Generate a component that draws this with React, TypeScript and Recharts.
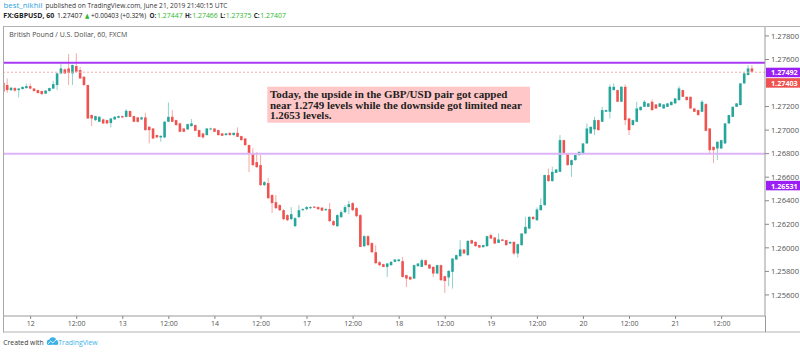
import React from 'react';
import { ComposedChart, Bar, XAxis, YAxis, ReferenceLine } from 'recharts';

const opens = [
  1.27402,1.27383,1.27340,1.27357,1.27340,1.27349,1.27357,1.27374,1.27353,1.27340,
  1.27332,1.27310,1.27332,1.27353,1.27383,1.27482,1.27516,1.27524,1.27482,1.27544,
  1.27510,1.27453,1.27383,1.27128,1.27085,1.27071,1.27091,1.27085,1.27060,1.27091,
  1.27105,1.27119,1.27113,1.27162,1.27119,1.27108,1.27091,1.27108,1.27028,1.27014,
  1.26958,1.26938,1.26938,1.27071,1.27113,1.27085,1.27057,1.27014,1.27006,1.27034,
  1.27043,1.27000,1.26972,1.26958,1.27006,1.27014,1.27000,1.26972,1.26958,1.26977,
  1.26958,1.26977,1.26949,1.26929,1.26873,1.26796,1.26728,1.26703,1.26533,1.26550,
  1.26448,1.26388,1.26363,1.26320,1.26278,1.26244,1.26184,1.26261,1.26320,1.26329,
  1.26337,1.26350,1.26346,1.26341,1.26320,1.26329,1.26227,1.26184,1.26261,1.26303,
  1.26346,1.26380,1.26337,1.26278,1.26014,1.26099,1.26040,1.25963,1.25878,1.25861,
  1.25838,1.25853,1.25881,1.25887,1.25887,1.25768,1.25753,1.25739,1.25844,1.25838,
  1.25895,1.25858,1.25838,1.25782,1.25853,1.25759,1.25748,1.25796,1.25901,1.25929,
  1.25986,1.25938,1.26065,1.26051,1.26023,1.26006,1.26014,1.26108,1.26088,1.26042,
  1.26071,1.26065,1.26037,1.26051,1.25952,1.26023,1.26122,1.26164,1.26263,1.26235,
  1.26320,1.26363,1.26618,1.26567,1.26637,1.26646,1.26915,1.26802,1.26703,1.26745,
  1.26788,1.26802,1.26887,1.26972,1.27006,1.27085,1.27071,1.27156,1.27156,1.27340,
  1.27340,1.27241,1.27368,1.27099,1.27043,1.27071,1.27170,1.27198,1.27198,1.27241,
  1.27218,1.27198,1.27184,1.27198,1.27213,1.27227,1.27255,1.27340,1.27283,1.27283,
  1.27184,1.27170,1.27156,1.27221,1.27014,1.26858,1.26844,1.26844,1.26887,1.27057,
  1.27113,1.27198,1.27213,1.27397,1.27468,1.27524,
];

const highs = [
  1.27425,1.27439,1.27368,1.27366,1.27357,1.27374,1.27395,1.27397,1.27357,1.27344,
  1.27336,1.27340,1.27361,1.27419,1.27489,1.27567,1.27523,1.27646,1.27557,1.27652,
  1.27538,1.27459,1.27387,1.27132,1.27123,1.27119,1.27098,1.27089,1.27102,1.27119,
  1.27123,1.27123,1.27179,1.27166,1.27123,1.27111,1.27113,1.27147,1.27034,1.27017,
  1.26962,1.26953,1.27077,1.27235,1.27170,1.27089,1.27064,1.27017,1.27055,1.27094,
  1.27047,1.27004,1.26975,1.27017,1.27021,1.27017,1.27004,1.26975,1.26975,1.26979,
  1.26979,1.27023,1.26953,1.26932,1.26877,1.26847,1.26813,1.26788,1.26567,1.26592,
  1.26456,1.26448,1.26371,1.26329,1.26286,1.26346,1.26261,1.26363,1.26337,1.26354,
  1.26354,1.26354,1.26354,1.26346,1.26337,1.26380,1.26235,1.26286,1.26320,1.26363,
  1.26399,1.26388,1.26346,1.26286,1.26108,1.26108,1.26048,1.26023,1.25887,1.25865,
  1.25870,1.25887,1.25904,1.25908,1.25923,1.25772,1.25759,1.25857,1.25870,1.25909,
  1.25899,1.25861,1.25844,1.25857,1.25857,1.25763,1.25810,1.25912,1.25942,1.26065,
  1.25989,1.26065,1.26069,1.26052,1.26023,1.26027,1.26103,1.26122,1.26091,1.26122,
  1.26074,1.26069,1.26052,1.26052,1.26035,1.26125,1.26263,1.26269,1.26269,1.26343,
  1.26419,1.26622,1.26674,1.26688,1.26669,1.26958,1.26919,1.26805,1.26749,1.26792,
  1.26817,1.26890,1.27057,1.27030,1.27113,1.27089,1.27198,1.27174,1.27388,1.27397,
  1.27344,1.27374,1.27388,1.27102,1.27089,1.27241,1.27200,1.27255,1.27230,1.27261,
  1.27221,1.27230,1.27221,1.27230,1.27242,1.27272,1.27374,1.27344,1.27285,1.27285,
  1.27187,1.27174,1.27255,1.27230,1.27017,1.26860,1.26902,1.26919,1.27060,1.27130,
  1.27200,1.27230,1.27400,1.27496,1.27553,1.27553,
];

const lows = [
  1.27319,1.27317,1.27332,1.27327,1.27278,1.27344,1.27353,1.27349,1.27327,1.27310,
  1.27302,1.27306,1.27327,1.27349,1.27340,1.27476,1.27476,1.27383,1.27383,1.27493,
  1.27434,1.27374,1.27094,1.27034,1.27077,1.27068,1.27051,1.27051,1.27023,1.27085,
  1.27102,1.27102,1.27108,1.27111,1.27068,1.27064,1.27085,1.26996,1.26887,1.26924,
  1.26932,1.26901,1.26932,1.27068,1.27068,1.27038,1.26983,1.26983,1.27000,1.27030,
  1.26992,1.26941,1.26932,1.26953,1.27000,1.26983,1.26953,1.26949,1.26953,1.26953,
  1.26953,1.26941,1.26911,1.26864,1.26643,1.26694,1.26677,1.26524,1.26524,1.26414,
  1.26295,1.26329,1.26312,1.26235,1.26227,1.26235,1.26176,1.26252,1.26312,1.26320,
  1.26329,1.26337,1.26320,1.26312,1.26312,1.26218,1.26184,1.26176,1.26252,1.26295,
  1.26286,1.26312,1.26261,1.26006,1.26006,1.26014,1.25955,1.25861,1.25844,1.25836,
  1.25753,1.25848,1.25878,1.25882,1.25746,1.25668,1.25725,1.25734,1.25840,1.25836,
  1.25848,1.25821,1.25753,1.25776,1.25721,1.25617,1.25674,1.25654,1.25895,1.25925,
  1.25946,1.25933,1.26031,1.26010,1.25997,1.26001,1.26010,1.26074,1.26031,1.26040,
  1.26057,1.26018,1.26031,1.25938,1.25918,1.26018,1.26116,1.26159,1.26239,1.26227,
  1.26316,1.26358,1.26562,1.26562,1.26635,1.26643,1.26796,1.26698,1.26603,1.26741,
  1.26783,1.26796,1.26881,1.26966,1.26958,1.26996,1.27068,1.27153,1.27099,1.27336,
  1.27238,1.27238,1.27043,1.26958,1.27038,1.27068,1.27166,1.27196,1.27196,1.27166,
  1.27181,1.27196,1.27181,1.27196,1.27208,1.27224,1.27251,1.27281,1.27251,1.27181,
  1.27153,1.27123,1.27153,1.26992,1.26802,1.26720,1.26745,1.26841,1.26884,1.27054,
  1.27111,1.27196,1.27210,1.27394,1.27465,1.27493,
];

const closes = [
  1.27326,1.27340,1.27360,1.27336,1.27353,1.27366,1.27374,1.27353,1.27332,1.27315,
  1.27306,1.27336,1.27357,1.27391,1.27482,1.27524,1.27482,1.27487,1.27553,1.27496,
  1.27439,1.27383,1.27099,1.27099,1.27119,1.27113,1.27057,1.27057,1.27099,1.27113,
  1.27119,1.27108,1.27164,1.27113,1.27071,1.27071,1.27108,1.27000,1.27000,1.26929,
  1.26938,1.26952,1.27071,1.27113,1.27071,1.27043,1.26986,1.26986,1.27051,1.27057,
  1.26994,1.26943,1.26938,1.27014,1.27014,1.26986,1.26958,1.26952,1.26972,1.26958,
  1.26977,1.26943,1.26915,1.26873,1.26805,1.26703,1.26686,1.26533,1.26558,1.26422,
  1.26380,1.26337,1.26320,1.26244,1.26235,1.26286,1.26252,1.26320,1.26329,1.26346,
  1.26346,1.26341,1.26329,1.26316,1.26329,1.26227,1.26193,1.26278,1.26303,1.26346,
  1.26371,1.26320,1.26269,1.26008,1.26099,1.26023,1.25963,1.25870,1.25853,1.25838,
  1.25867,1.25881,1.25901,1.25901,1.25753,1.25739,1.25731,1.25853,1.25867,1.25895,
  1.25853,1.25824,1.25782,1.25853,1.25725,1.25719,1.25804,1.25909,1.25938,1.25986,
  1.25952,1.26059,1.26037,1.26014,1.26003,1.26023,1.26099,1.26079,1.26037,1.26071,
  1.26059,1.26023,1.26051,1.25952,1.26031,1.26122,1.26178,1.26263,1.26244,1.26326,
  1.26363,1.26618,1.26567,1.26646,1.26666,1.26915,1.26802,1.26703,1.26745,1.26788,
  1.26816,1.26887,1.27014,1.27028,1.27085,1.27000,1.27170,1.27170,1.27368,1.27368,
  1.27241,1.27368,1.27085,1.27000,1.27085,1.27184,1.27198,1.27241,1.27227,1.27170,
  1.27184,1.27227,1.27218,1.27227,1.27241,1.27269,1.27354,1.27283,1.27255,1.27184,
  1.27156,1.27128,1.27241,1.26994,1.26830,1.26830,1.26901,1.26915,1.27057,1.27128,
  1.27198,1.27227,1.27397,1.27482,1.27524,1.27496,
];

const tickIndex = [7, 19, 31, 43, 55, 67, 79, 91, 103, 115, 127, 139, 151, 163, 175, 187];
const tickLabels = ['12', '12:00', '13', '12:00', '14', '12:00', '17', '12:00', '18', '12:00', '19', '12:00', '20', '12:00', '21', '12:00'];
const priceTicks = [1.256, 1.258, 1.26, 1.262, 1.264, 1.266, 1.268, 1.27, 1.272, 1.276, 1.278];

const resistanceLevel = 1.27572;
const cappedLevel = 1.27492;
const supportLevel = 1.268;
const lastPrice = 1.27403;
const limitedLevel = 1.26531;

const data = opens.map((o, i) => ({ i, open: o, high: highs[i], low: lows[i], close: closes[i] }));

const GREEN = '#26a69a';
const RED = '#ef5350';
const QUOTE_GREEN = '#2eb82e';
const SANS = "'Open Sans', 'Noto Sans', 'DejaVu Sans', sans-serif";

const Candle = (props: any) => {
  const { x, y, width, height, payload } = props;
  if (!payload || x == null || y == null) return null;
  const { open, close, high, low } = payload;
  const cx = x + width / 2;
  const range = high - low;
  const k = range > 0 ? height / range : 0;
  const yO = y + (high - open) * k;
  const yC = y + (high - close) * k;
  const up = close >= open;
  const color = up ? GREEN : RED;
  const top = Math.min(yO, yC);
  const h = Math.max(Math.abs(yO - yC), 1);
  return (
    <g>
      <line x1={cx} x2={cx} y1={y} y2={y + height} stroke={color} strokeOpacity={0.5} strokeWidth={1} />
      <rect x={cx - 1.3} y={top} width={2.6} height={h} fill={color} />
    </g>
  );
};

const PriceTag = (color: string, text: string) => (props: any) => {
  const vb = props.viewBox || {};
  const x0 = (vb.x || 0) + (vb.width || 0);
  const yc = vb.y || 0;
  return (
    <g>
      <rect x={x0 + 1} y={yc - 4.5} width={40} height={9.5} fill={color} />
      <text x={x0 + 6} y={yc + 3.2} fontSize={7.2} fontWeight={700} fill="#fff" fontFamily={SANS}>{text}</text>
    </g>
  );
};

const headerSegments: { text: string; x: number; w: number; fill: string; bold?: boolean }[] = [
  { text: 'FX:GBPUSD, 60', x: 3.3, w: 51.0, fill: '#222', bold: true },
  { text: '1.27407', x: 56.9, w: 25.6, fill: '#222' },
  { text: '▲', x: 85.0, w: 4.3, fill: QUOTE_GREEN },
  { text: '+0.00403 (+0.32%)', x: 91.1, w: 55.0, fill: '#222' },
  { text: 'O:', x: 149.6, w: 6.8, fill: '#222', bold: true },
  { text: '1.27447', x: 157.0, w: 25.6, fill: QUOTE_GREEN },
  { text: 'H:', x: 185.0, w: 6.6, fill: '#222', bold: true },
  { text: '1.27466', x: 192.2, w: 25.6, fill: QUOTE_GREEN },
  { text: 'L:', x: 220.2, w: 5.0, fill: '#222', bold: true },
  { text: '1.27375', x: 225.8, w: 25.6, fill: QUOTE_GREEN },
  { text: 'C:', x: 253.8, w: 5.8, fill: '#222', bold: true },
  { text: '1.27407', x: 260.3, w: 25.6, fill: QUOTE_GREEN },
];

export default function App() {
  return (
    <div style={{ position: 'absolute', left: 0, top: 0, width: 800, height: 352, background: '#fff', overflow: 'hidden' }}>
      <ComposedChart
        width={800}
        height={352}
        data={data}
        margin={{ top: 27, right: 0, bottom: 0, left: 3 }}
      >
        <XAxis
          dataKey="i"
          type="number"
          domain={[-0.2, 198.3]}
          allowDataOverflow
          ticks={tickIndex}
          interval={0}
          tickFormatter={(v: number) => tickLabels[tickIndex.indexOf(v)] ?? ''}
          height={36}
          tickSize={3}
          tickMargin={2}
          tick={{ fontSize: 7, fill: '#555', fontFamily: SANS }}
          axisLine={{ stroke: '#9a9a9a' }}
          tickLine={{ stroke: '#888' }}
        />
        <YAxis
          orientation="right"
          type="number"
          domain={[1.25421, 1.27876]}
          allowDataOverflow
          ticks={priceTicks}
          interval={0}
          tickFormatter={(v: number) => v.toFixed(5)}
          width={35}
          tickSize={4}
          tickMargin={2}
          tick={{ fontSize: 7.6, fill: '#555', fontFamily: SANS }}
          axisLine={{ stroke: '#9a9a9a' }}
          tickLine={{ stroke: '#888' }}
        />
        <Bar
          dataKey={(d: any) => [d.low, d.high]}
          barSize={3}
          isAnimationActive={false}
          shape={(p: any) => <Candle {...p} />}
        />
        <ReferenceLine y={supportLevel} stroke="#dcb5f7" strokeWidth={2} />
        <ReferenceLine y={resistanceLevel} stroke="#a83af5" strokeWidth={2} />
        <ReferenceLine y={cappedLevel} stroke="#f5a9a9" strokeWidth={1} strokeDasharray="2 2" label={PriceTag('#9b1ff5', cappedLevel.toFixed(5))} />
        <ReferenceLine y={lastPrice} stroke="none" strokeWidth={0} label={PriceTag(RED, lastPrice.toFixed(5))} />
        <ReferenceLine y={limitedLevel} stroke="none" strokeWidth={0} label={PriceTag('#9b1ff5', limitedLevel.toFixed(5))} />
      </ComposedChart>

      <svg width={800} height={352} style={{ position: 'absolute', left: 0, top: 0, pointerEvents: 'none' }}>
        {/* header */}
        <text x={3.5} y={8.3} fontSize={7.6} fontFamily={SANS} fill="#2a9fe0" textLength={39} lengthAdjust="spacingAndGlyphs">best_nikhil</text>
        <text x={45.5} y={8.3} fontSize={7.6} fontFamily={SANS} fill="#333" textLength={182} lengthAdjust="spacingAndGlyphs">published on TradingView.com, June 21, 2019 21:40:15 UTC</text>
        {headerSegments.map((s, k) => (
          <text key={k} x={s.x} y={18.3} fontSize={7} fontFamily={SANS} fontWeight={s.bold ? 700 : 400} fill={s.fill} textLength={s.w} lengthAdjust="spacingAndGlyphs">{s.text}</text>
        ))}

        {/* chart frame */}
        <line x1={3} x2={800} y1={26.5} y2={26.5} stroke="#b4b4b4" />
        <line x1={3.5} x2={3.5} y1={26.5} y2={332.5} stroke="#a8a8a8" />
        <line x1={3} x2={800} y1={332} y2={332} stroke="#b4b4b4" />
        <line x1={765.5} x2={765.5} y1={316} y2={332} stroke="#9a9a9a" />

        <text x={9.3} y={36.5} fontSize={7.8} fontFamily={SANS} fill="#4a4a4a" textLength={118} lengthAdjust="spacingAndGlyphs">British Pound / U.S. Dollar, 60, FXCM</text>

        {/* annotation */}
        <rect x={267.3} y={86.7} width={262.7} height={36} fill="#ffc7c7" />
        <text fontFamily="'Liberation Serif', 'Times New Roman', serif" fontWeight={700} fontSize={11} fill="#222">
          <tspan x={270} y={97.7}>Today, the upside in the GBP/USD pair got capped</tspan>
          <tspan x={270} y={108.5}>near 1.2749 levels while the downside got limited near</tspan>
          <tspan x={270} y={119.3}>1.2653 levels.</tspan>
        </text>

        {/* footer */}
        <text x={3.3} y={345.3} fontSize={8} fontFamily={SANS} fill="#333" textLength={40.4} lengthAdjust="spacingAndGlyphs">Created with</text>
        <g transform="translate(45.5,337)">
          <circle cx={4} cy={5.2} r={2.6} fill="#3bb2e6" />
          <circle cx={7.3} cy={3.6} r={3.3} fill="#3bb2e6" />
          <circle cx={10.3} cy={5.4} r={2.4} fill="#3bb2e6" />
          <rect x={1.4} y={5} width={11.3} height={2.8} rx={1.3} fill="#3bb2e6" />
          <polyline points="2.5,6.8 5.2,4.2 7.4,5.8 10.8,2.6" fill="none" stroke="#fff" strokeWidth={0.9} />
        </g>
        <text x={58.3} y={345.3} fontSize={8} fontFamily={SANS} fill="#3bb2e6" textLength={39.4} lengthAdjust="spacingAndGlyphs">TradingView</text>
      </svg>
    </div>
  );
}
